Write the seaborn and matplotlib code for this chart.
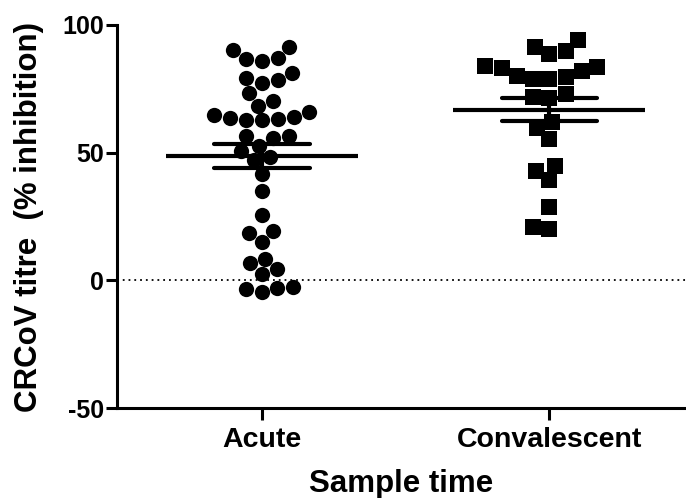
import numpy as np
import pandas as pd
import matplotlib
matplotlib.use("Agg")
import matplotlib.pyplot as plt
import seaborn as sns

# ---- data ----
categories = ["Acute", "Convalescent"]
acute = [90.2, 91.3, 86.6, 87.2, 85.9, 81.1, 78.5, 77.2, 79.2, 73.3,
         70.4, 68.4, 66.1, 64.8, 63.5, 62.6, 62.9, 63.2, 63.9, 55.7,
         56.4, 56.4, 52.7, 50.5, 47.0, 48.3, 41.8, 34.9, 25.5, 18.6,
         19.5, 15.1, 8.5, 6.6, 2.6, 4.3, -2.9, -4.6, -3.3, -2.5]
convalescent = [94.1, 91.5, 88.5, 90.0, 83.7, 81.8, 83.1, 84.1, 79.8, 78.9,
                78.9, 80.2, 71.8, 71.6, 72.9, 62.2, 59.6, 55.5, 44.9, 42.7,
                39.1, 28.6, 20.3, 20.8]
yticks = [-50, 0, 50, 100]

df = pd.DataFrame({
    "group": [categories[0]] * len(acute) + [categories[1]] * len(convalescent),
    "value": acute + convalescent,
})

sns.set_style("ticks")
plt.rcParams["font.family"] = ["Liberation Sans", "DejaVu Sans"]
plt.rcParams["font.weight"] = "bold"

W, H = 686, 498
fig = plt.figure(figsize=(W / 100, H / 100), dpi=100)
ax = fig.add_axes([117 / W, 90 / H, (W - 117) / W, 383 / H])

sns.swarmplot(data=df[df.group == categories[0]], x="group", y="value",
              order=categories, color="black", marker="o", size=11,
              linewidth=0, ax=ax)
sns.swarmplot(data=df[df.group == categories[1]], x="group", y="value",
              order=categories, color="black", marker="s", size=11.4,
              linewidth=0, ax=ax)

sns.pointplot(data=df, x="group", y="value", order=categories,
              errorbar="se", capsize=0.333, color="black",
              marker="_", markersize=138, markeredgewidth=3,
              linestyle="none", err_kws={"linewidth": 3}, ax=ax)

ax.axhline(0, color="black", lw=1.3, ls=(0, (1, 2.2)), zorder=0)

ax.set_xlim(-0.504, 1.475)
ax.set_ylim(-50, 100)
ax.set_yticks(yticks)
ax.set_yticklabels([str(v) for v in yticks])

for s in ["top", "right"]:
    ax.spines[s].set_visible(False)
for s in ["left", "bottom"]:
    ax.spines[s].set_linewidth(2.2)
    ax.spines[s].set_color("black")

ax.tick_params(axis="y", length=8, width=2.2, pad=1.5, labelsize=18,
               colors="black", direction="out")
ax.tick_params(axis="x", length=8.5, width=2.2, pad=5, labelsize=20.5,
               colors="black", direction="out")
for lab in ax.get_xticklabels() + ax.get_yticklabels():
    lab.set_fontweight("bold")

ax.set_xlabel("Sample time", fontsize=22.5, fontweight="bold", color="black")
ax.set_ylabel("CRCoV titre  (% inhibition)", fontsize=22.5, fontweight="bold",
              color="black")
ax.xaxis.set_label_coords(0.5, -0.158)
ax.yaxis.set_label_coords(-0.129, 0.5)

fig.savefig("out.png", dpi=100)
